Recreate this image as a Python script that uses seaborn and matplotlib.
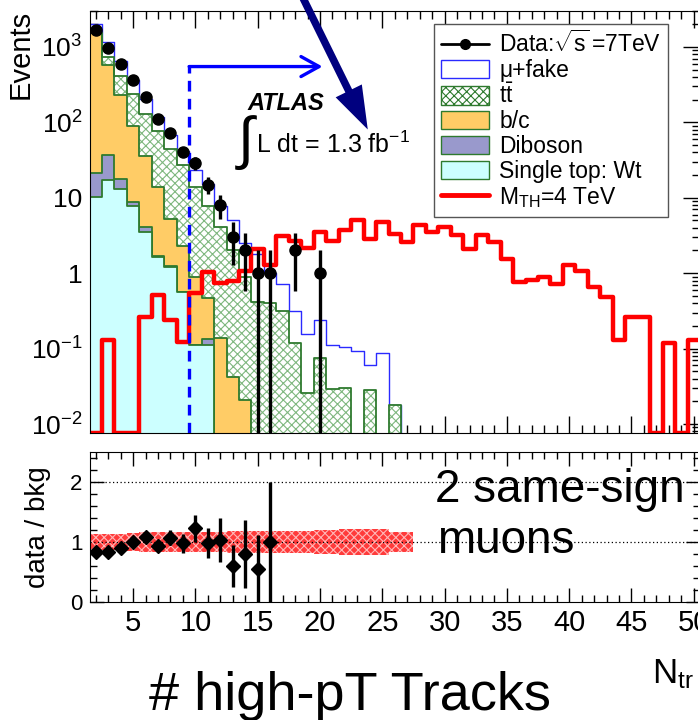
import numpy as np
import pandas as pd
import matplotlib
matplotlib.use("Agg")
import matplotlib.pyplot as plt
import seaborn as sns
from matplotlib.patches import Patch, FancyArrowPatch
from matplotlib.lines import Line2D
from matplotlib.ticker import FixedLocator, MultipleLocator, FuncFormatter, NullFormatter, LogLocator

sns.set_style("ticks")
plt.rcParams["font.family"] = ["Liberation Sans", "DejaVu Sans"]
plt.rcParams["mathtext.fontset"] = "custom"
plt.rcParams["mathtext.rm"] = "Liberation Sans"
plt.rcParams["mathtext.it"] = "Liberation Sans:italic"
plt.rcParams["mathtext.bf"] = "Liberation Sans:bold"
plt.rcParams["hatch.linewidth"] = 0.8
for key in ("text.color", "axes.labelcolor", "xtick.color", "ytick.color", "axes.edgecolor"):
    plt.rcParams[key] = "black"

# ---------------------------------------------------------------- data
# track multiplicity bins N_tr = 2 ... 50
n_tr = np.arange(2, 51)
edges = np.arange(1.5, 51.0, 1.0)

# observed events, N_tr = 2 ... 20
data_counts = [1700, 980, 590, 360, 220, 110, 73, 41, 29, 15, 8, 3, 2, 1, 1, 0, 2, 0, 1]

# background expectations, starting at N_tr = 2
single_top_wt = [10.3, 17, 13.2, 7.9, 3.5, 1.63, 1.21, 0.57, 0.111, 0.111]
diboson = [11, 19.6, 4.8, 0.9, 0.6, 0.05, 0.04, 0.0, 0.0, 0.023]
b_c = [1489, 543, 210, 82, 31.4, 12.2, 4.05, 1.73, 0.77, 0.336, 0.137, 0.042, 0.021]
ttbar = [15, 153, 179, 144, 94.5, 64, 38.7, 24.7, 13.0, 7.4, 3.93, 1.96, 0.88,
         0.42, 0.40, 0.32, 0.118, 0.026, 0.075, 0.029, 0.03, 0, 0.028, 0, 0.018]
mu_fake = [515, 437, 248, 127, 74, 40, 24, 15, 9.7, 7.4, 3.7, 3.0, 1.6,
           1.38, 0.60, 0.41, 0.20, 0.129, 0.165, 0.081, 0.076, 0.093, 0.032, 0.088, 0]

# signal, M_TH = 4 TeV, N_tr = 2 ... 50
signal_4tev = [0, 0.13, 0, 0, 0.26, 0.52, 0.24, 0.123, 0.54, 1.04, 0.75, 0.8, 1.06,
               2.1, 1.28, 3.1, 2.7, 2.15, 3.5, 2.7, 3.7, 5.0, 2.8, 4.8, 3.35, 2.6,
               4.3, 3.5, 4.1, 3.2, 2.1, 3.25, 2.6, 1.56, 0.77, 0.81, 0.88, 0.71,
               1.28, 1.06, 0.65, 0.485, 0.13, 0.26, 0.265, 0, 0.12, 0, 0.13]

# relative background uncertainty, N_tr = 2 ... 27
bkg_syst = [0.14, 0.14, 0.14, 0.15, 0.16, 0.16, 0.16, 0.16, 0.17, 0.17, 0.17, 0.18,
            0.18, 0.18, 0.18, 0.19, 0.19, 0.19, 0.20, 0.20, 0.21, 0.21, 0.21, 0.21,
            0.16, 0.16]

cut_ntr = 9.5
cut_arrow_end = 20.2
cut_level = 550.0

legend_labels = [r"Data:$\sqrt{\mathrm{s}}\,$=7TeV", "\u03bc+fake", r"t$\bar{\mathrm{t}}$",
                 "b/c", "Diboson", "Single top: Wt", r"M$_{\mathrm{TH}}$=4 TeV"]
y_tick_vals = [1e-2, 1e-1, 1, 10, 1e2, 1e3]
y_tick_text = [r"$10^{-2}$", r"$10^{-1}$", "1", "10", r"$10^{2}$", r"$10^{3}$"]
x_tick_vals = [5, 10, 15, 20, 25, 30, 35, 40, 45, 50]

# ---------------------------------------------------------------- colours
BLUE = "#2a2aff"
GREEN = "#2e7a2e"
HATCH_GREEN = "#7fb77f"
ORANGE = "#ffcc66"
PURPLE = "#9999cc"
CYAN = "#ccffff"
RED = "#ff0000"
NAVY = "#00007f"

NB = len(n_tr)


def padded(vals):
    arr = np.zeros(NB)
    arr[:len(vals)] = vals
    return arr


wt = padded(single_top_wt)
db = padded(diboson)
bc = padded(b_c)
tt = padded(ttbar)
fake = padded(mu_fake)
sig = padded(signal_4tev)
dat = padded(data_counts)

cum_wt = wt
cum_db = cum_wt + db
cum_bc = cum_db + bc
cum_tt = cum_bc + tt
total = cum_tt + fake

YMIN, YMAX = 0.0076, 3000.0

stack = pd.DataFrame({"ntr": n_tr, "total": total, "tt_top": cum_tt,
                      "bc_top": cum_bc, "db_top": cum_db, "wt_top": cum_wt,
                      "signal": np.maximum(sig, YMIN)})

# ---------------------------------------------------------------- figure
W, H = 698.0, 720.0
fig = plt.figure(figsize=(W / 100, H / 100), dpi=100)
left_px, right_px = 89.5, 700.0
ax = fig.add_axes([left_px / W, 1 - 433 / H, (right_px - left_px) / W, 422 / H])
axr = fig.add_axes([left_px / W, 1 - 602 / H, (right_px - left_px) / W, 150 / H])
ax.set_yscale("log")

bin_list = list(edges)


def layer(col, **kw):
    sns.histplot(data=stack, x="ntr", weights=col, bins=bin_list, element="step",
                 alpha=1, ax=ax, **kw)


# stacked backgrounds, drawn from the top of the stack downwards
layer("total", fill=True, facecolor="white", edgecolor=BLUE, linewidth=1.0)
layer("tt_top", fill=True, facecolor="white", edgecolor=HATCH_GREEN, hatch="xxxx", linewidth=0)
layer("tt_top", fill=False, color=GREEN, linewidth=1.3)
layer("bc_top", fill=True, facecolor=ORANGE, edgecolor=GREEN, linewidth=1.3)
layer("db_top", fill=True, facecolor=PURPLE, edgecolor=GREEN, linewidth=1.3)
layer("wt_top", fill=True, facecolor=CYAN, edgecolor=GREEN, linewidth=1.3)
layer("signal", fill=False, color=RED, linewidth=3.2)

# data with Poisson errors
has = dat > 0
yd = dat[has]
err_hi = np.sqrt(yd)
err_lo = np.minimum(np.sqrt(yd), yd - YMIN * 0.5)
ax.errorbar(n_tr[has], yd, yerr=[err_lo, err_hi], fmt="o", color="black",
            ms=8, elinewidth=2.4, capsize=0, zorder=10)

# selection cut
ax.plot([cut_ntr, cut_ntr], [YMIN, cut_level * 1.04], ls=(0, (3.2, 2.2)), color="#0000ff",
        lw=2.4, zorder=9)
ax.annotate("", xy=(cut_arrow_end, cut_level), xytext=(cut_ntr, cut_level),
            arrowprops=dict(arrowstyle="->,head_length=0.65,head_width=0.36",
                            mutation_scale=20, lw=2.4, color="#0000ff",
                            shrinkA=0, shrinkB=0), zorder=9)

ax.set_xlim(1.5, 50.5)
ax.set_ylim(YMIN, YMAX)
ax.set_xlabel("")
ax.set_ylabel("")
ax.yaxis.set_major_locator(FixedLocator(y_tick_vals))
ax.yaxis.set_major_formatter(FuncFormatter(
    lambda v, p: y_tick_text[int(np.argmin(np.abs(np.log10(y_tick_vals) - np.log10(v))))]))
ax.yaxis.set_minor_locator(LogLocator(base=10, subs=np.arange(2, 10)))
ax.yaxis.set_minor_formatter(NullFormatter())
ax.xaxis.set_major_locator(MultipleLocator(5))
ax.xaxis.set_minor_locator(MultipleLocator(1))
ax.tick_params(which="both", direction="in", top=True, right=True, labelbottom=False)
ax.tick_params(which="major", length=12, width=1, labelsize=19, pad=5)
ax.tick_params(which="minor", length=6, width=1)

# legend
handles = [
    Line2D([], [], color="black", marker="o", ms=7, lw=2),
    Patch(facecolor="white", edgecolor=BLUE, lw=1),
    Patch(facecolor="white", edgecolor=GREEN, hatch="xxxx", lw=1),
    Patch(facecolor=ORANGE, edgecolor=GREEN, lw=1),
    Patch(facecolor=PURPLE, edgecolor=GREEN, lw=1),
    Patch(facecolor=CYAN, edgecolor=GREEN, lw=1),
    Line2D([], [], color=RED, lw=3.5),
]
leg = ax.legend(handles, legend_labels, loc="upper right",
                bbox_to_anchor=(668 / W, 1 - 24 / H), bbox_transform=fig.transFigure,
                fontsize=16.5, frameon=True, fancybox=False, framealpha=1,
                edgecolor="#555555", handlelength=2.1, handleheight=0.85,
                handletextpad=0.45, labelspacing=0.08, borderpad=0.3, borderaxespad=0)
leg.get_frame().set_linewidth(1.0)
leg.set_zorder(20)

# ATLAS label and luminosity
fig.text(247 / W, 1 - 110 / H, "ATLAS", fontsize=17, fontweight="bold", fontstyle="italic")
fig.text(246 / W, 1 - 143 / H, "\u222b", fontsize=42, ha="center", va="center",
         family=["Liberation Sans", "DejaVu Sans"])
fig.text(256 / W, 1 - 153 / H, r"L dt = 1.3 fb$^{\mathregular{-1}}$", fontsize=18)

# big arrow
fig.add_artist(FancyArrowPatch(
    (302 / W, 1 + 4 / H), (369 / W, 1 - 132 / H), transform=fig.transFigure,
    arrowstyle="simple,head_length=1.55,head_width=1.05,tail_width=0.27",
    mutation_scale=20, color=NAVY, lw=0, zorder=30))

# ---------------------------------------------------------------- ratio panel
ratio = np.full(NB, np.nan)
ratio_err = np.full(NB, np.nan)
ok = (dat > 0) & (total > 0)
ratio[ok] = dat[ok] / total[ok]
ratio_err[ok] = np.sqrt(dat[ok]) / total[ok]
show = ok & (ratio <= 2.5)

syst = padded(bkg_syst)
nb_syst = len(bkg_syst)
band_x = edges[:nb_syst + 1]
band_s = np.append(syst[:nb_syst], syst[nb_syst - 1])
axr.fill_between(band_x, 1 - band_s, 1 + band_s, step="post", facecolor="#ff3b3b",
                 edgecolor="#ffb8b8", hatch="xxxx", linewidth=0, zorder=1)
axr.axhline(1, color="black", ls=(0, (1, 2)), lw=0.9, zorder=2)
axr.axhline(2, color="black", ls=(0, (1, 2)), lw=0.9, zorder=2)
axr.errorbar(n_tr[show], ratio[show], yerr=ratio_err[show], fmt="D", color="black",
             ms=7.5, elinewidth=2.4, capsize=0, zorder=5)

axr.set_xlim(1.5, 50.5)
axr.set_ylim(0, 2.5)
axr.xaxis.set_major_locator(FixedLocator(x_tick_vals))
axr.xaxis.set_minor_locator(MultipleLocator(1))
axr.yaxis.set_major_locator(FixedLocator([0, 1, 2]))
axr.yaxis.set_minor_locator(MultipleLocator(0.2))
axr.tick_params(which="both", direction="in", top=True, right=True)
axr.tick_params(axis="x", which="major", length=10, width=1, labelsize=21, pad=5)
axr.tick_params(axis="y", which="major", length=10, width=1, labelsize=16, pad=5)
axr.tick_params(which="minor", length=5, width=1)

fig.text(435 / W, 1 - 502 / H, "2 same-sign", fontsize=33)
fig.text(437 / W, 1 - 553 / H, "muons", fontsize=33)

# axis titles
fig.text(21 / W, 1 - 10 / H, "Events", rotation=90, ha="center", va="top", fontsize=21)
fig.text(38 / W, 1 - 527 / H, "data / bkg", rotation=90, ha="center", va="center", fontsize=20)
fig.text(350 / W, 1 - 710 / H, "# high-pT Tracks", ha="center", va="baseline", fontsize=39)
fig.text(652 / W, 1 - 683 / H, r"N$_{\mathrm{tr}}$", ha="left", va="baseline", fontsize=25)

fig.savefig("out.png", dpi=100)
